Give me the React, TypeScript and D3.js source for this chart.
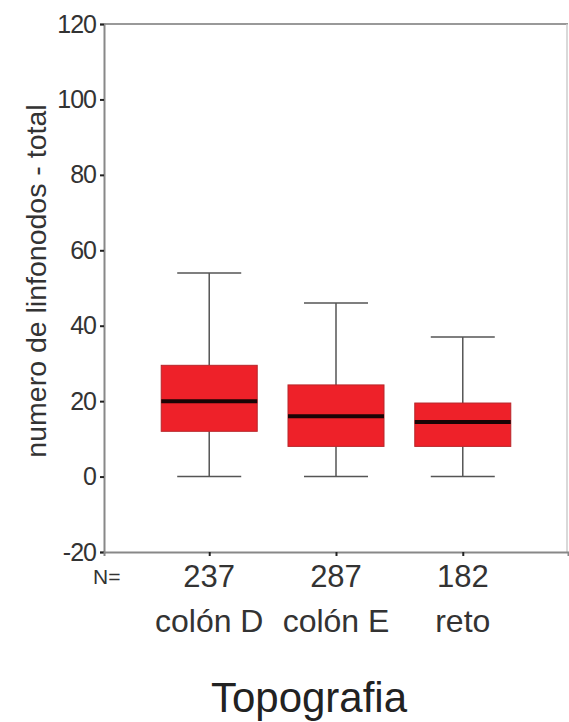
import React, { useRef, useEffect } from 'react';
import * as d3 from 'd3';

// boxplot summary
const categories = ['colón D', 'colón E', 'reto'];
const counts = [237, 287, 182];
const whiskerLow = [0, 0, 0];
const q1 = [12, 8, 8];
const median = [20, 16, 14.5];
const q3 = [29.5, 24.3, 19.5];
const whiskerHigh = [54, 46, 37];
const yTicks = [-20, 0, 20, 40, 60, 80, 100, 120];

export default function App() {
  const svgRef = useRef<SVGSVGElement>(null);

  useEffect(() => {
    if (!svgRef.current) return;
    const svg = d3.select(svgRef.current);
    svg.selectAll('*').remove();

    const width = 569;
    const height = 722;
    const margin = { top: 24, right: 1, bottom: 170, left: 104 };
    const font = 'Arial, "Liberation Sans", sans-serif';

    const x = d3.scalePoint<string>()
      .domain(categories)
      .range([margin.left, width - margin.right])
      .padding(0.83);

    const y = d3.scaleLinear()
      .domain([-20, 120])
      .range([height - margin.bottom, margin.top]);

    const boxW = 96;
    const capW = 64;

    // frame
    svg.append('line')
      .attr('x1', margin.left).attr('x2', width - margin.right)
      .attr('y1', y(120)).attr('y2', y(120))
      .attr('stroke', '#999').attr('stroke-width', 2);
    svg.append('line')
      .attr('x1', width - margin.right - 1).attr('x2', width - margin.right - 1)
      .attr('y1', y(120)).attr('y2', y(-20))
      .attr('stroke', '#ccc').attr('stroke-width', 1.5);

    // y axis
    const yAxis = svg.append('g')
      .attr('transform', `translate(${margin.left},0)`)
      .call(d3.axisLeft(y).tickValues(yTicks).tickSize(4).tickPadding(4).tickFormat(d => String(d)));
    yAxis.select('.domain').attr('stroke', '#888').attr('stroke-width', 2);
    yAxis.selectAll('.tick line').attr('stroke', '#222').attr('stroke-width', 2);
    yAxis.selectAll('.tick text')
      .attr('font-family', font)
      .attr('font-size', 25)
      .attr('fill', '#333')
      .attr('letter-spacing', -1);

    // x axis
    const xAxis = svg.append('g')
      .attr('transform', `translate(0,${y(-20)})`)
      .call(d3.axisBottom(x).tickSize(4).tickFormat(() => ''));
    xAxis.select('.domain').attr('stroke', '#888').attr('stroke-width', 2);
    xAxis.selectAll('.tick line').attr('stroke', '#222').attr('stroke-width', 2);

    // boxes
    const g = svg.append('g');
    categories.forEach((c, i) => {
      const cx = x(c) as number;
      g.append('line')
        .attr('x1', cx).attr('x2', cx)
        .attr('y1', y(whiskerHigh[i])).attr('y2', y(q3[i]))
        .attr('stroke', '#555').attr('stroke-width', 1.5);
      g.append('line')
        .attr('x1', cx).attr('x2', cx)
        .attr('y1', y(q1[i])).attr('y2', y(whiskerLow[i]))
        .attr('stroke', '#555').attr('stroke-width', 1.5);
      [whiskerHigh[i], whiskerLow[i]].forEach(v => {
        g.append('line')
          .attr('x1', cx - capW / 2).attr('x2', cx + capW / 2)
          .attr('y1', y(v)).attr('y2', y(v))
          .attr('stroke', '#555').attr('stroke-width', 1.5);
      });
      g.append('rect')
        .attr('x', cx - boxW / 2)
        .attr('y', y(q3[i]))
        .attr('width', boxW)
        .attr('height', y(q1[i]) - y(q3[i]))
        .attr('fill', '#ee2129')
        .attr('stroke', '#b8262a')
        .attr('stroke-width', 1);
      g.append('line')
        .attr('x1', cx - boxW / 2).attr('x2', cx + boxW / 2)
        .attr('y1', y(median[i])).attr('y2', y(median[i]))
        .attr('stroke', '#1a0405').attr('stroke-width', 4);

      // N and category labels
      svg.append('text')
        .attr('x', cx).attr('y', 587)
        .attr('text-anchor', 'middle')
        .attr('font-family', font).attr('font-size', 31)
        .attr('fill', '#333')
        .text(counts[i]);
      svg.append('text')
        .attr('x', cx).attr('y', 632)
        .attr('text-anchor', 'middle')
        .attr('font-family', font).attr('font-size', 32)
        .attr('fill', '#333')
        .text(c);
    });

    svg.append('text')
      .attr('x', 93).attr('y', 584)
      .attr('font-family', font).attr('font-size', 21)
      .attr('fill', '#333')
      .text('N=');

    // axis titles
    svg.append('text')
      .attr('transform', `translate(46,281) rotate(-90)`)
      .attr('text-anchor', 'middle')
      .attr('font-family', font).attr('font-size', 28.5)
      .attr('fill', '#333')
      .text('numero de linfonodos - total');

    svg.append('text')
      .attr('x', 309).attr('y', 712)
      .attr('text-anchor', 'middle')
      .attr('font-family', font).attr('font-size', 42)
      .attr('fill', '#222')
      .text('Topografia');
  }, []);

  return (
    <svg
      ref={svgRef}
      width={569}
      height={722}
      style={{ position: 'absolute', left: 0, top: 0, background: '#fff' }}
    />
  );
}
